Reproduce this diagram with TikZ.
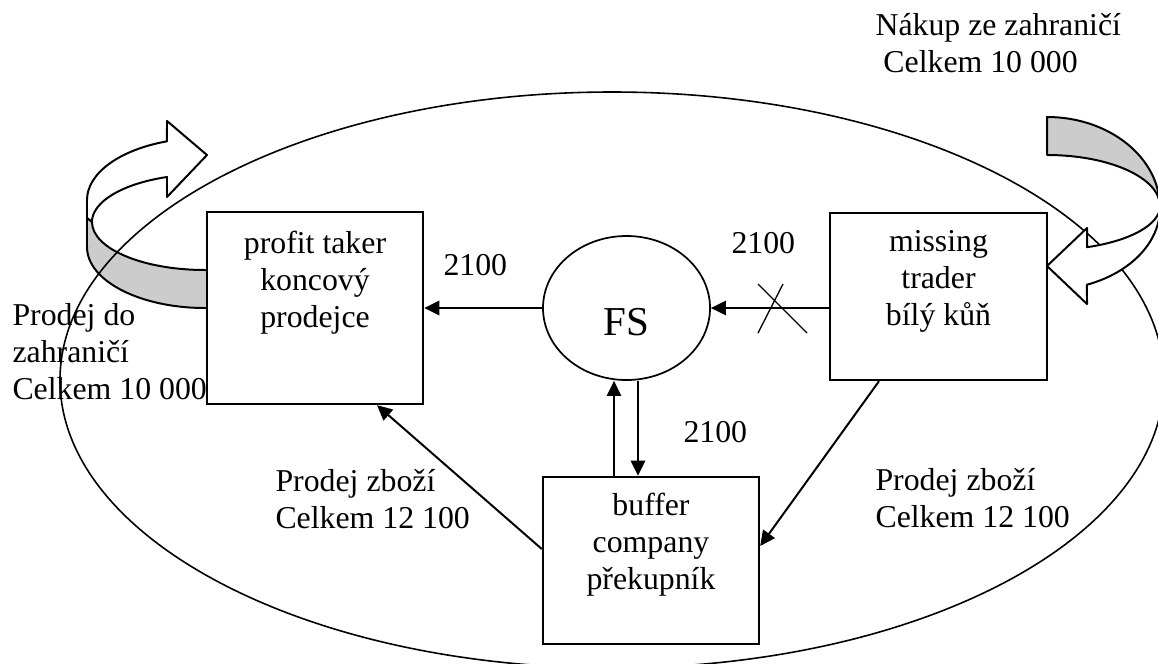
\documentclass[tikz,border=0pt]{standalone}
\usepackage{fontspec}
\setmainfont{Liberation Serif}
\usetikzlibrary{shapes.geometric,arrows.meta,calc}
\definecolor{ribbongray}{RGB}{204,204,204}
\begin{document}
\begin{tikzpicture}[x=0.3774pt,y=-0.3774pt,
  every node/.style={font=\fontsize{12}{13.96}\selectfont, inner sep=0pt},
  lbl/.style={align=left},
  boxnode/.style={draw, rectangle, line width=0.9pt, fill=white, inner sep=0pt},
  boxtext/.style={align=center, anchor=north},
  ribbonline/.style={line width=0.75pt, line join=round},
  arr/.style={line width=0.75pt, -{Triangle[length=5.7pt,width=5.4pt]}},
  crossline/.style={line width=0.5pt}]
\useasboundingbox (0,0) rectangle (1158,663);
\clip (0,0) rectangle (1158,663);

% left curved ribbon arrow (behind the big ellipse)
\filldraw[ribbonline, fill=white] (87,218) -- (87,200)
  arc[start angle=180, end angle=251.2, x radius=118, y radius=62]
  -- (167,121) -- (207,155) -- (167,197) -- (167,177)
  arc[start angle=250.4, end angle=180, x radius=113, y radius=48]
  -- cycle;
\filldraw[ribbonline, fill=ribbongray] (92,222)
  arc[start angle=180, end angle=90, x radius=113, y radius=48]
  -- (210,270) -- (210,308) -- (205,308)
  arc[start angle=90, end angle=180, x radius=118, y radius=61]
  -- (87,218) -- cycle;

% big ellipse
\draw[line width=0.6pt] (612,380) ellipse [x radius=552, y radius=288];

% right curved ribbon arrow (in front of the ellipse)
\filldraw[ribbonline, fill=ribbongray] (1047,117)
  arc[start angle=-90, end angle=0, x radius=113, y radius=91]
  -- (1160,206)
  arc[start angle=0, end angle=-90, x radius=113, y radius=51]
  -- cycle;
\filldraw[ribbonline, fill=white] (1160,208)
  arc[start angle=0, end angle=69.3, x radius=113, y radius=82]
  -- (1087,304) -- (1047,266) -- (1087,228) -- (1087,247.2)
  arc[start angle=69.3, end angle=0, x radius=113, y radius=44]
  -- cycle;

% boxes
\node[boxnode, minimum width=81.52pt, minimum height=72.46pt] (pt) at (315,308) {};
\node[boxnode, minimum width=81.9pt, minimum height=63.03pt] (mt) at (938.5,296.5) {};
\node[boxnode, minimum width=81.52pt, minimum height=63.03pt] (buf) at (651,560.5) {};
\node[boxtext] (pttext) at ($(pt.north)+(0,19.3)$) {profit taker\\koncový\\prodejce};
\node[boxtext] (mttext) at ($(mt.north)+(0,18.3)$) {missing\\trader\\bílý kůň};
\node[boxtext] (buftext) at ($(buf.north)+(0,16.3)$) {buffer\\company\\překupník};

% FS
\node[draw, ellipse, line width=0.65pt, minimum width=63.03pt, minimum height=54.35pt] (fs) at (626.5,308) {};
\node[anchor=base, font=\fontsize{15.5}{18}\selectfont] (fstext) at (626,335) {FS};

% connectors
\draw[arr] (fs.west) -- (pt.east);
\draw[arr] (fs.east -| mt.west) -- (fs.east);
\draw[arr] ($(buf.north -| fs.south)+(-12.5,0)$) -- ($(fs.south)+(-12.5,0)$);
\draw[arr] ($(fs.south)+(11.5,0)$) -- ($(buf.north -| fs.south)+(11.5,0)$);
\draw[arr] ($(buf.west)+(0,-11.5)$) -- ($(pt.south)+(62,0)$);
\draw[arr] ($(mt.south)+(-59.5,0)$) -- ($(buf.east)+(0,-14.5)$);

% cross on the missing trader -> FS flow
\coordinate (xm) at (782,308);
\draw[crossline] ($(xm)+(-24,-24)$) -- ($(xm)+(25,25)$);
\draw[crossline] ($(xm)+(1,-24)$) -- ($(xm)+(-24,25)$);

% labels
\node[lbl, anchor=north west] (nakup) at (875,13.3) {Nákup ze zahraničí\\\hspace*{0.25em}Celkem 10 000};
\node[lbl, anchor=north west] (prodejdo) at (12,303.3) {Prodej do\\zahraničí\\Celkem 10 000};
\node[anchor=base west] (vala) at (443,275) {2100};
\node[anchor=base west] (valb) at (731,253) {2100};
\node[anchor=base west] (valc) at (683,442) {2100};
\node[lbl, anchor=north west] (pzleft) at (275,469.3) {Prodej zboží\\Celkem 12 100};
\node[lbl, anchor=north west] (pzright) at (875,468.3) {Prodej zboží\\Celkem 12 100};
\end{tikzpicture}
\end{document}
